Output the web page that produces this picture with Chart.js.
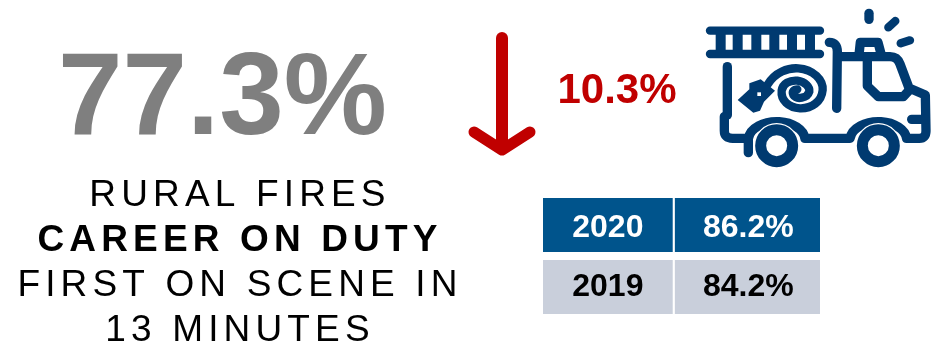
<!DOCTYPE html>
<html>
<head>
<meta charset="utf-8">
<title>Rural fires: career on duty first on scene</title>
<style>
  html, body { margin: 0; padding: 0; background: #fff; }
  canvas { display: block; }
</style>
<script src="https://cdn.jsdelivr.net/npm/chart.js@4"></script>
</head>
<body>
<canvas id="chart" width="938" height="347"></canvas>
<script>
// Values shown on the panel
const years = ['2020', '2019'];
const yearRates = [86.2, 84.2];
const headlineRate = 77.3;
const changeRate = 10.3;
const captionLines = ['RURAL FIRES', 'CAREER ON DUTY', 'FIRST ON SCENE IN', '13 MINUTES'];
const boldCaptionLines = ['CAREER ON DUTY'];

const FONT = '"Liberation Sans", Arial, sans-serif';
const NAVY = '#00548C';
const SLATE = '#C9CFDB';
const RED = '#C00000';
const GREY = '#7F7F7F';
const ICON = '#003A70';

const pct = v => v.toFixed(1) + '%';

function line(ctx, pts) {
  ctx.beginPath();
  pts.forEach((p, i) => (i ? ctx.lineTo(p[0], p[1]) : ctx.moveTo(p[0], p[1])));
  ctx.stroke();
}

// Down arrow beside the change figure
function drawArrow(ctx) {
  ctx.save();
  ctx.strokeStyle = RED;
  ctx.lineCap = 'round';
  ctx.lineJoin = 'round';
  ctx.lineWidth = 12;
  line(ctx, [[502, 38], [502, 148]]);
  ctx.lineWidth = 11;
  line(ctx, [[474, 132], [502, 150], [530, 132]]);
  ctx.restore();
}

// Fire engine pictogram
function drawEngine(ctx) {
  ctx.save();
  ctx.translate(690, 0);
  ctx.scale(1 / 3, 1 / 3);
  ctx.strokeStyle = ICON;
  ctx.fillStyle = ICON;
  ctx.lineCap = 'round';
  ctx.lineJoin = 'round';

  // ladder
  ctx.lineWidth = 25;
  line(ctx, [[60, 92], [390, 92]]);
  line(ctx, [[60, 162], [390, 162]]);
  ctx.lineCap = 'butt';
  ctx.lineWidth = 30;
  [92, 143, 199, 253, 306, 360].forEach(x => line(ctx, [[x, 92], [x, 162]]));
  ctx.lineCap = 'round';

  // body
  ctx.lineWidth = 28;
  line(ctx, [[112, 200], [112, 345]]);
  ctx.beginPath();
  ctx.moveTo(103, 350);
  ctx.lineTo(103, 392);
  ctx.quadraticCurveTo(103, 415, 128, 415);
  ctx.lineTo(175, 415);
  ctx.ellipse(260, 420, 85, 55, 0, Math.PI * 1.03, Math.PI * 1.97);
  ctx.lineTo(480, 415);
  ctx.ellipse(565, 420, 85, 55, 0, Math.PI * 1.03, Math.PI * 1.97);
  ctx.lineTo(688, 415);
  ctx.quadraticCurveTo(708, 415, 708, 392);
  ctx.lineTo(706, 285);
  ctx.lineTo(657, 264);
  ctx.lineTo(630, 192);
  ctx.quadraticCurveTo(622, 170, 600, 170);
  ctx.lineTo(445, 170);
  ctx.stroke();
  line(ctx, [[175, 420], [175, 458]]);
  line(ctx, [[665, 358], [706, 358]]);

  // cab pillar and window
  ctx.beginPath();
  ctx.moveTo(418, 127);
  ctx.quadraticCurveTo(442, 127, 442, 155);
  ctx.lineTo(440, 325);
  ctx.stroke();
  line(ctx, [[532, 170], [532, 258], [565, 290], [640, 290], [660, 268]]);

  // beacon and rays
  line(ctx, [[507, 165], [511, 127], [564, 127], [574, 165]]);
  ctx.lineWidth = 28;
  line(ctx, [[537, 40], [537, 58]]);
  ctx.lineWidth = 25;
  line(ctx, [[595, 82], [616, 63]]);
  line(ctx, [[632, 130], [660, 121]]);

  // hose coil
  ctx.lineWidth = 25;
  ctx.beginPath();
  ctx.moveTo(232, 255);
  ctx.bezierCurveTo(255, 215, 295, 203, 325, 205);
  ctx.bezierCurveTo(370, 208, 400, 240, 398, 270);
  ctx.bezierCurveTo(395, 305, 365, 326, 330, 325);
  ctx.bezierCurveTo(295, 323, 272, 300, 275, 272);
  ctx.bezierCurveTo(278, 250, 300, 240, 322, 242);
  ctx.bezierCurveTo(345, 245, 360, 260, 358, 275);
  ctx.bezierCurveTo(352, 295, 320, 300, 310, 285);
  ctx.bezierCurveTo(305, 275, 312, 268, 322, 268);
  ctx.stroke();

  // nozzle
  ctx.beginPath();
  ctx.moveTo(143, 300);
  ctx.lineTo(178, 268);
  ctx.lineTo(178, 250);
  ctx.lineTo(212, 238);
  ctx.lineTo(255, 272);
  ctx.lineTo(222, 305);
  ctx.lineTo(210, 332);
  ctx.lineTo(190, 338);
  ctx.closePath();
  ctx.fill();
  ctx.fillStyle = '#fff';
  ctx.fillRect(202, 277, 11, 11);

  // wheels, each with a thin white halo cutting into the arch
  [260, 565].forEach(x => {
    ctx.strokeStyle = '#fff';
    ctx.lineWidth = 40;
    ctx.beginPath();
    ctx.arc(x, 437, 48, 0, Math.PI * 2);
    ctx.stroke();
    ctx.strokeStyle = ICON;
    ctx.lineWidth = 33;
    ctx.beginPath();
    ctx.arc(x, 437, 48, 0, Math.PI * 2);
    ctx.stroke();
  });
  ctx.restore();
}

const panelPlugin = {
  id: 'panel',
  afterDatasetsDraw(chart) {
    const { ctx, scales } = chart;
    ctx.save();

    // headline figure
    ctx.textBaseline = 'alphabetic';
    ctx.textAlign = 'center';
    ctx.fillStyle = GREY;
    ctx.font = 'bold 116px ' + FONT;
    ctx.fillText(pct(headlineRate), 222.5, 134);

    // caption block
    ctx.fillStyle = '#000';
    ctx.letterSpacing = '5.15px';
    const baselines = [206, 251, 296, 341];
    captionLines.forEach((text, i) => {
      const bold = boldCaptionLines.includes(text);
      ctx.font = (bold ? 'bold ' : '') + '37px ' + FONT;
      ctx.fillText(text, 240, baselines[i]);
    });
    ctx.letterSpacing = '0px';

    // change figure
    ctx.fillStyle = RED;
    ctx.font = 'bold 42px ' + FONT;
    ctx.fillText(pct(changeRate), 617, 103);

    // table cell labels follow the bars' own scales
    ctx.font = 'bold 32px ' + FONT;
    ctx.textBaseline = 'middle';
    years.forEach((year, i) => {
      const y = scales.y.getPixelForValue(i) + (i === 0 ? 3 : 0);
      ctx.fillStyle = i === 0 ? '#fff' : '#000';
      const split = scales.x.getPixelForValue(SPLIT);
      ctx.fillText(year, (scales.x.left + split) / 2 - 1, y);
      ctx.fillText(pct(yearRates[i]), (split + scales.x.right) / 2 + 1, y);
    });
    ctx.restore();

    drawArrow(ctx);
    drawEngine(ctx);
  }
};

// Share of the table's width given to the year column
const SPLIT = 0.4755;
const rowColors = [NAVY, SLATE];

new Chart(document.getElementById('chart'), {
  type: 'bar',
  data: {
    labels: years,
    datasets: [
      {
        label: 'Year',
        data: years.map(() => SPLIT),
        backgroundColor: rowColors,
        borderColor: '#fff',
        borderWidth: { right: 2, left: 0, top: 0, bottom: 0 },
        borderSkipped: false
      },
      {
        label: 'Rate',
        data: yearRates.map(() => 1 - SPLIT),
        backgroundColor: rowColors,
        borderWidth: 0
      }
    ]
  },
  options: {
    indexAxis: 'y',
    responsive: false,
    animation: false,
    events: [],
    layout: { padding: { left: 543, right: 118, top: 194, bottom: 29 } },
    datasets: { bar: { barPercentage: 54 / 62, categoryPercentage: 1 } },
    plugins: { legend: { display: false }, tooltip: { enabled: false } },
    scales: {
      x: { stacked: true, display: false, min: 0, max: 1 },
      y: { stacked: true, display: false }
    }
  },
  plugins: [panelPlugin]
});
</script>
</body>
</html>
